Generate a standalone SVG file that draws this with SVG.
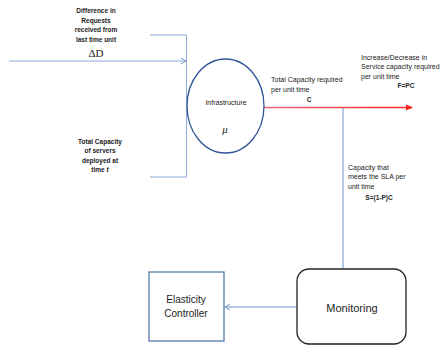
<svg xmlns="http://www.w3.org/2000/svg" width="446" height="348" viewBox="0 0 446 348">
<defs>
<style>
.t{font-family:"Liberation Sans",Arial,sans-serif;font-size:7px;fill:#222}
.b{font-weight:bold;font-size:6.5px}
.bl{fill:none;stroke:#8eaadb;stroke-width:1}
</style>
<marker id="ab" markerWidth="8" markerHeight="8" refX="6" refY="4" orient="auto" markerUnits="userSpaceOnUse">
<path d="M1,1 L6,4 L1,7" fill="none" stroke="#6f94cf" stroke-width="1"/>
</marker>
<marker id="ar" markerWidth="8" markerHeight="8" refX="6" refY="4" orient="auto" markerUnits="userSpaceOnUse">
<path d="M0,1 L7,4 L0,7 Z" fill="#ff2020"/>
</marker>
<linearGradient id="rg" gradientUnits="userSpaceOnUse" x1="264" y1="0" x2="412" y2="0">
<stop offset="0" stop-color="#e86a78"/>
<stop offset="1" stop-color="#ff2525"/>
</linearGradient>
</defs>
<rect width="446" height="348" fill="#fff"/>
<g id="connectors">
<line x1="9" y1="61" x2="186" y2="61" class="bl" marker-end="url(#ab)"/>
<polyline points="150,35 186.5,35 186.5,177 150,177" class="bl"/>
<line x1="264" y1="107.5" x2="412" y2="107.5" stroke="url(#rg)" stroke-width="1.3" marker-end="url(#ar)"/>
<line x1="343" y1="108" x2="343" y2="269" stroke="#6f94cf" stroke-width="1"/>
<line x1="297" y1="307" x2="225" y2="307" stroke="#6f94cf" stroke-width="1" marker-end="url(#ab)"/>
</g>
<g id="infrastructure">
<ellipse cx="225.5" cy="106" rx="38.5" ry="47" fill="#fff" stroke="#2f5597" stroke-width="1.3"/>
<text x="226" y="105" class="t" text-anchor="middle">Infrastructure</text>
<text x="225" y="133" font-family="Liberation Serif,serif" font-style="italic" font-size="11" text-anchor="middle" fill="#222">μ</text>
</g>
<g id="monitoring">
<rect x="297" y="269" width="109" height="75" rx="12" fill="#fff" stroke="#222" stroke-width="1.3"/>
<text x="352" y="312" class="t" text-anchor="middle" style="font-size:11px">Monitoring</text>
</g>
<g id="controller">
<rect x="149" y="272" width="75" height="69" fill="#fff" stroke="#4a6fa5" stroke-width="1.2"/>
<text x="186" y="303" class="t" text-anchor="middle" style="font-size:10px">Elasticity</text>
<text x="186" y="317" class="t" text-anchor="middle" style="font-size:10px">Controller</text>
</g>
<g id="labels">
<text class="t b" text-anchor="middle"><tspan x="96" y="13">Difference in</tspan><tspan x="96" y="22.5">Requests</tspan><tspan x="96" y="32">received from</tspan><tspan x="96" y="41.5">last time unit</tspan></text>
<text x="96" y="57" font-family="Liberation Serif,serif" font-size="11" text-anchor="middle" fill="#222">ΔD</text>
<text class="t b" text-anchor="middle"><tspan x="100" y="143.5">Total Capacity</tspan><tspan x="100" y="153">of servers</tspan><tspan x="100" y="162.5">deployed at</tspan><tspan x="100" y="172">time <tspan font-style="italic">t</tspan></tspan></text>
<text class="t"><tspan x="271" y="82">Total Capacity required</tspan><tspan x="271" y="92">per unit time</tspan></text>
<text x="309" y="102" class="t b" text-anchor="middle">C</text>
<text class="t"><tspan x="361" y="59.5">Increase/Decrease in</tspan><tspan x="361" y="69">Service capacity required</tspan><tspan x="361" y="78.5">per unit time</tspan></text>
<text x="406" y="88" class="t b" text-anchor="middle">F=PC</text>
<text class="t"><tspan x="348" y="169.5">Capacity that</tspan><tspan x="348" y="179">meets the SLA per</tspan><tspan x="348" y="188.5">unit time</tspan></text>
<text x="379" y="200" class="t b" text-anchor="middle">S=(1-P)C</text>
</g>
</svg>
